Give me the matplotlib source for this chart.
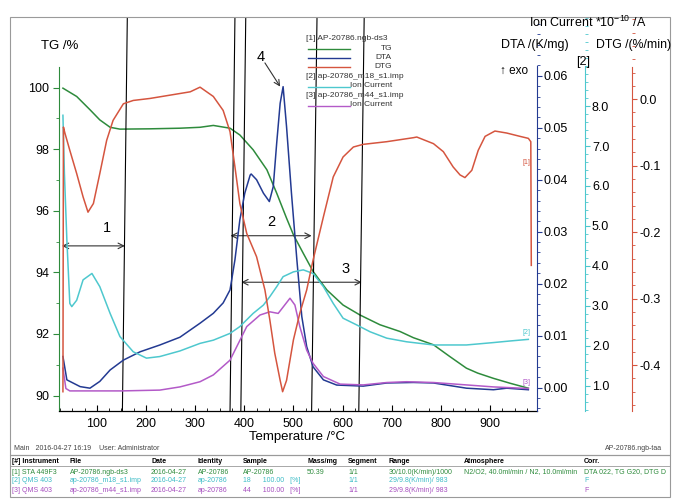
import matplotlib
matplotlib.use("Agg")
import matplotlib.pyplot as plt
from matplotlib.ticker import MultipleLocator, FixedLocator, FormatStrFormatter
from matplotlib.lines import Line2D
from matplotlib.patches import Rectangle

plt.rcParams['font.family'] = ['Liberation Sans', 'DejaVu Sans']
plt.rcParams['mathtext.fontset'] = 'custom'
plt.rcParams['mathtext.rm'] = 'Liberation Sans'
plt.rcParams['mathtext.it'] = 'Liberation Sans'

# ------------------------------------------------------------------
# TG /%
tg_temp = [31, 59, 86, 106, 127, 147, 208, 269, 310, 337, 371, 391, 418, 446,
           466, 486, 500, 520, 540, 568, 601, 635, 676, 717, 744, 785, 818,
           852, 875, 907, 941, 978]
tg = [99.98, 99.71, 99.28, 98.95, 98.71, 98.65, 98.66, 98.68, 98.71, 98.77,
      98.68, 98.46, 97.98, 97.33, 96.57, 95.76, 95.22, 94.62, 94.03, 93.43,
      92.94, 92.62, 92.30, 92.08, 91.88, 91.65, 91.27, 90.89, 90.73, 90.56,
      90.40, 90.24]

# DTA /(K/mg)
dta_temp = [31, 39, 66, 86, 106, 127, 154, 188, 228, 269, 310, 337, 357, 371,
            381, 391, 401, 412, 414, 425, 439, 451, 459, 466, 473, 479, 486,
            496, 507, 517, 527, 540, 561, 588, 642, 690, 744, 785, 852, 907,
            934, 978]
dta = [0.0060, 0.0015, 0.0002, -0.0001, 0.0012, 0.0034, 0.0053, 0.0069,
       0.0082, 0.0097, 0.0124, 0.0143, 0.0163, 0.0188, 0.0246, 0.0323, 0.0374,
       0.0409, 0.0411, 0.0400, 0.0374, 0.0358, 0.0387, 0.0471, 0.0547, 0.0579,
       0.0502, 0.0374, 0.0246, 0.0137, 0.0079, 0.0040, 0.0015, 0.0005, 0.0003,
       0.0009, 0.0010, 0.0009, -0.0001, -0.0004, -0.0001, -0.0004]

# DTG /(%/min)
dtg_temp = [31, 32, 35, 45, 59, 72, 82, 93, 106, 120, 133, 154, 174, 208, 249,
            290, 310, 337, 357, 371, 381, 391, 405, 425, 442, 452, 462, 473,
            478, 486, 500, 513, 527, 540, 561, 581, 601, 622, 642, 690, 744,
            751, 785, 805, 825, 839, 849, 863, 876, 890, 910, 934, 961, 978,
            983, 984]
dtg = [-0.440, -0.042, -0.051, -0.077, -0.112, -0.147, -0.170, -0.157, -0.112,
       -0.062, -0.032, -0.007, -0.002, 0.001, 0.006, 0.011, 0.018, 0.004,
       -0.017, -0.049, -0.102, -0.157, -0.202, -0.237, -0.287, -0.332, -0.382,
       -0.423, -0.440, -0.423, -0.362, -0.322, -0.287, -0.242, -0.177, -0.117,
       -0.087, -0.072, -0.068, -0.064, -0.058, -0.057, -0.067, -0.079, -0.102,
       -0.114, -0.118, -0.107, -0.077, -0.056, -0.048, -0.051, -0.056, -0.059,
       -0.064, -0.250]

# Ion Current m18 *10^-10 /A
ion18_temp = [31, 34, 39, 45, 49, 59, 72, 90, 106, 127, 147, 174, 201, 228,
              269, 310, 337, 371, 391, 418, 439, 452, 466, 479, 500, 520, 540,
              561, 581, 601, 629, 656, 690, 730, 785, 852, 907, 941, 978]
ion18 = [7.77, 6.32, 4.65, 3.06, 2.98, 3.14, 3.65, 3.81, 3.48, 2.81, 2.23,
         1.85, 1.69, 1.73, 1.87, 2.06, 2.14, 2.31, 2.48, 2.81, 3.02, 3.23, 3.48,
         3.73, 3.85, 3.90, 3.81, 3.48, 3.06, 2.69, 2.52, 2.35, 2.19, 2.10, 2.02,
         2.02, 2.08, 2.12, 2.16]

# Ion Current m44 *10^-10 /A
ion44_temp = [31, 37, 45, 150, 228, 269, 310, 337, 371, 405, 432, 452, 469,
              493, 503, 513, 527, 540, 561, 595, 642, 690, 730, 785, 852, 907,
              978]
ion44 = [1.44, 0.93, 0.87, 0.87, 0.89, 0.97, 1.10, 1.27, 1.64, 2.48, 2.77,
         2.85, 2.81, 3.19, 3.02, 2.48, 1.89, 1.56, 1.23, 1.04, 1.02, 1.08, 1.10,
         1.08, 1.02, 0.97, 0.93]

# step marker lines (temperature at bottom / top of the plot)
step_bottom = [152, 371, 393, 537, 633]
step_top = [162, 381, 403, 548, 644]

table_header = ["[#] Instrument", "File", "Date", "Identity", "Sample",
                "Mass/mg", "Segment", "Range", "Atmosphere", "Corr."]
table_rows = [
    ["[1] STA 449F3", "AP-20786.ngb-ds3", "2016-04-27", "AP-20786", "AP-20786",
     "50.39", "1/1", "30/10.0(K/min)/1000",
     "N2/O2, 40.0ml/min / N2, 10.0ml/min", "DTA 022, TG G20, DTG D"],
    ["[2] QMS 403", "ap-20786_m18_s1.imp", "2016-04-27", "ap-20786",
     "18      100.00   [%]", "", "1/1", "29/9.8(K/min)/ 983", "", "F"],
    ["[3] QMS 403", "ap-20786_m44_s1.imp", "2016-04-27", "ap-20786",
     "44      100.00   [%]", "", "1/1", "29/9.8(K/min)/ 983", "", "F"],
]
# ------------------------------------------------------------------

W, H = 673, 500
c_tg = '#2e8b3c'
c_dta = '#233a92'
c_dtg = '#d5553f'
c_ion18 = '#4ec8ce'
c_ion44 = '#b35ac8'
row_colors = [c_tg, '#3cbcc6', '#a64dbf']


def fx(x):
    return x / W


def fy(y):
    return 1 - y / H


fig = plt.figure(figsize=(W / 100, H / 100), dpi=100)
ax = fig.add_axes([fx(59), fy(411), (536.7 - 59) / W, (411 - 17) / H])
ax.patch.set_alpha(0)

# TG axis
ax.plot(tg_temp, tg, color=c_tg, lw=1.1)
ax.set_xlim(23, 995)
ax.set_ylim(89.50, 102.29)
for s in ['top', 'right']:
    ax.spines[s].set_visible(False)
ax.spines['left'].set_color(c_tg)
ax.spines['left'].set_bounds(89.5, 100.68)
ax.spines['bottom'].set_linewidth(0.9)
ax.yaxis.set_major_locator(FixedLocator([90, 92, 94, 96, 98, 100]))
ax.yaxis.set_minor_locator(FixedLocator([91, 93, 95, 97, 99]))
ax.tick_params(axis='y', which='both', colors=c_tg, labelcolor='black',
               labelsize=9, pad=3)
ax.tick_params(axis='y', which='major', length=4)
ax.tick_params(axis='y', which='minor', length=2)
ax.xaxis.set_major_locator(FixedLocator([100, 200, 300, 400, 500, 600, 700, 800, 900]))
ax.xaxis.set_minor_locator(MultipleLocator(25))
ax.tick_params(axis='x', which='both', direction='in', labelsize=9, pad=5)
ax.tick_params(axis='x', which='major', length=4)
ax.tick_params(axis='x', which='minor', length=2.5)

# DTA axis
ax_dta = ax.twinx()
ax_dta.plot(dta_temp, dta, color=c_dta, lw=1.1)
ax_dta.set_ylim(-0.00449, 0.0713)
for s in ['top', 'left', 'bottom']:
    ax_dta.spines[s].set_visible(False)
ax_dta.spines['right'].set_color(c_dta)
ax_dta.spines['right'].set_bounds(-0.00449, 0.0619)
ax_dta.yaxis.set_major_locator(FixedLocator([0.0, 0.01, 0.02, 0.03, 0.04, 0.05, 0.06]))
ax_dta.yaxis.set_minor_locator(MultipleLocator(0.002))
ax_dta.yaxis.set_major_formatter(FormatStrFormatter('%.2f'))

# Ion current axis [2]
ax_ion = ax.twinx()
ax_ion.plot(ion18_temp, ion18, color=c_ion18, lw=1.1)
ax_ion.plot(ion44_temp, ion44, color=c_ion44, lw=1.1)
ax_ion.set_ylim(0.367, 10.23)
for s in ['top', 'left', 'bottom']:
    ax_ion.spines[s].set_visible(False)
ax_ion.spines['right'].set_position(('axes', 1.1011))
ax_ion.spines['right'].set_color(c_ion18)
ax_ion.spines['right'].set_bounds(0.367, 9.0)
ax_ion.yaxis.set_major_locator(FixedLocator([1, 2, 3, 4, 5, 6, 7, 8]))
ax_ion.yaxis.set_minor_locator(MultipleLocator(0.2))
ax_ion.yaxis.set_major_formatter(FormatStrFormatter('%.1f'))

# DTG axis
ax_dtg = ax.twinx()
ax_dtg.plot(dtg_temp, dtg, color=c_dtg, lw=1.1)
ax_dtg.set_ylim(-0.469, 0.1235)
for s in ['top', 'left', 'bottom']:
    ax_dtg.spines[s].set_visible(False)
ax_dtg.spines['right'].set_position(('axes', 1.2001))
ax_dtg.spines['right'].set_color(c_dtg)
ax_dtg.spines['right'].set_bounds(-0.469, 0.0486)
ax_dtg.yaxis.set_major_locator(FixedLocator([-0.4, -0.3, -0.2, -0.1, 0.0]))
ax_dtg.yaxis.set_minor_locator(MultipleLocator(0.02))
ax_dtg.yaxis.set_major_formatter(FormatStrFormatter('%.1f'))

for a, c in [(ax_dta, c_dta), (ax_ion, c_ion18), (ax_dtg, c_dtg)]:
    a.tick_params(axis='y', which='both', colors=c, labelcolor='black',
                  labelsize=9, pad=1.5)
    a.tick_params(axis='y', which='major', length=3.5)
    a.tick_params(axis='y', which='minor', length=2)

# step marker lines
for tb, tt in zip(step_bottom, step_top):
    ax.plot([tb, tt], [0, 1], color='black', lw=0.8,
            transform=ax.get_xaxis_transform(), zorder=5)

# range arrows
arrow_kw = dict(arrowstyle='<->', color='#333333', lw=0.8, shrinkA=0, shrinkB=0)
ax.annotate('', xy=(157, 94.86), xytext=(29, 94.86), arrowprops=arrow_kw)
ax.annotate('', xy=(537, 95.19), xytext=(372, 95.19), arrowprops=arrow_kw)
ax.annotate('', xy=(639, 93.68), xytext=(394, 93.68), arrowprops=arrow_kw)
ax.text(121, 95.45, '1', fontsize=10.5, ha='center', va='center')
ax.text(456, 95.64, '2', fontsize=10.5, ha='center', va='center')
ax.text(606, 94.11, '3', fontsize=10.5, ha='center', va='center')
ax.text(433, 101.0, '4', fontsize=10.5, ha='center', va='center')
ax.annotate('', xy=(473, 100.03), xytext=(442, 100.8),
            arrowprops=dict(arrowstyle='->', color='#333333', lw=0.8,
                            shrinkA=0, shrinkB=0))

# curve tags
ax_dtg.text(975, -0.095, '[1]', color=c_dtg, fontsize=5, ha='center', va='center')
ax_ion.text(975, 2.34, '[2]', color=c_ion18, fontsize=5, ha='center', va='center')
ax_ion.text(975, 1.07, '[3]', color=c_ion44, fontsize=5, ha='center', va='center')

# axis titles
fig.text(fx(41), fy(46), 'TG /%', fontsize=9.5, va='center')
fig.text(fx(588), fy(22), 'Ion Current *10$^{-10}$ /A', fontsize=9,
         ha='center', va='center')
fig.text(fx(501), fy(45), 'DTA /(K/mg)', fontsize=9, va='center')
fig.text(fx(596), fy(45), 'DTG /(%/min)', fontsize=8.8, va='center')
fig.text(fx(500), fy(71), '\u2191 exo', fontsize=8.5, va='center')
fig.text(fx(583), fy(62), '[2]', fontsize=9, ha='center', va='center')
fig.text(fx(297), fy(437), 'Temperature /\u00b0C', fontsize=9.5,
         ha='center', va='center')

# legend block
leg_items = [
    (38, '[1] AP-20786.ngb-ds3', None, None),
    (48.5, 'TG', c_tg, 49),
    (57.7, 'DTA', c_dta, 58),
    (67.0, 'DTG', c_dtg, 67),
    (76.7, '[2] ap-20786_m18_s1.imp', None, None),
    (86, 'Ion Current', c_ion18, 87),
    (95.7, '[3] ap-20786_m44_s1.imp', None, None),
    (105, 'Ion Current', c_ion44, 106),
]
for ty, label, col, ly in leg_items:
    if col is None:
        fig.text(fx(306), fy(ty), label, fontsize=6, va='center', color='#333333')
    else:
        fig.add_artist(Line2D([fx(308), fx(350)], [fy(ly), fy(ly)],
                              color=col, lw=1.0, transform=fig.transFigure))
        fig.text(fx(392), fy(ty), label, fontsize=6, ha='right', va='center',
                 color='#333333')

# frame and footer
fig.add_artist(Rectangle((fx(10), fy(455)), (670 - 10) / W, (455 - 17) / H,
                         transform=fig.transFigure, fill=False,
                         ec='#9a9a9a', lw=0.8))
fig.add_artist(Rectangle((fx(10), fy(497)), (670 - 10) / W, (497 - 455) / H,
                         transform=fig.transFigure, fill=False,
                         ec='#9a9a9a', lw=0.8))
fig.add_artist(Line2D([fx(10), fx(670)], [fy(466), fy(466)], color='#9a9a9a',
                      lw=0.6, transform=fig.transFigure))
fig.text(fx(14), fy(448), 'Main   2016-04-27 16:19    User: Administrator',
         fontsize=5, color='#444444', va='center')
fig.text(fx(662), fy(448), 'AP-20786.ngb-taa', fontsize=5, color='#444444',
         ha='right', va='center')

col_x = [12, 70, 151, 198, 243, 307, 348, 389, 464, 584]
for x, h in zip(col_x, table_header):
    fig.text(fx(x), fy(461.5), h, fontsize=5, fontweight='bold', va='center')
for row, y, c in zip(table_rows, [472, 481, 490], row_colors):
    for x, v in zip(col_x, row):
        fig.text(fx(x), fy(y), v, fontsize=5, color=c, va='center')

fig.savefig('out.png', dpi=100)
